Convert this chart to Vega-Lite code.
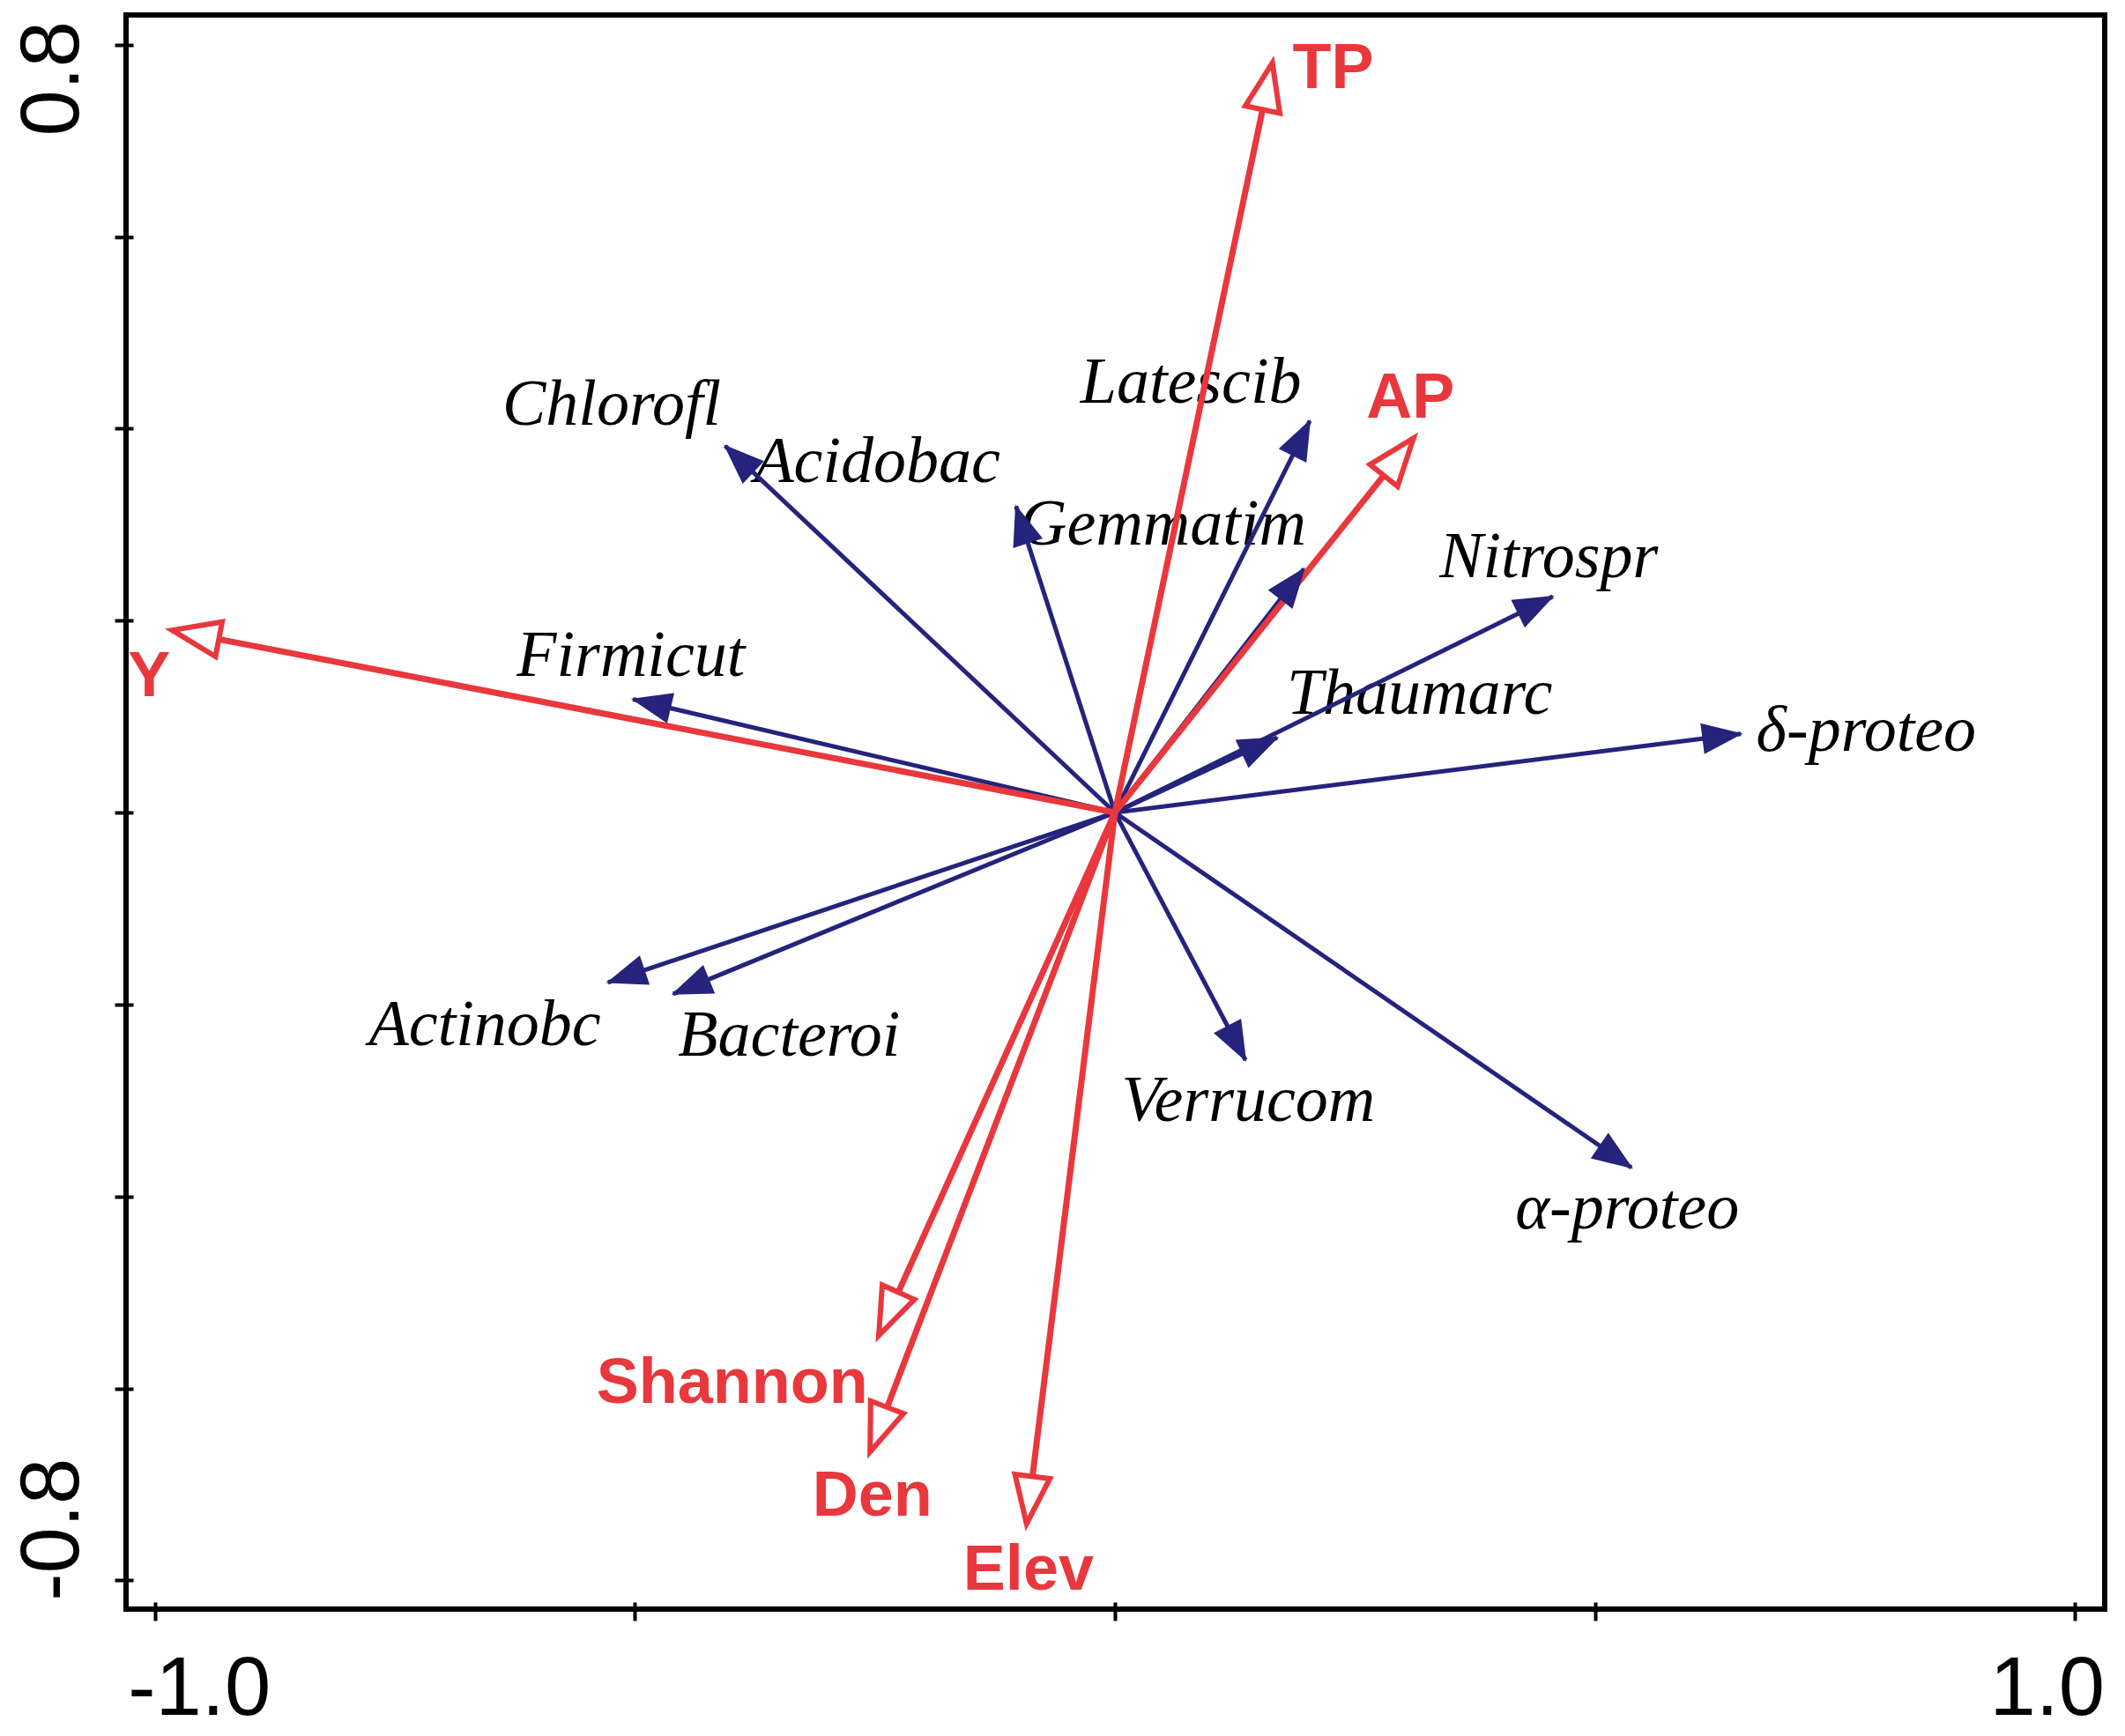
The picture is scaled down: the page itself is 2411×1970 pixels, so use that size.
{
  "$schema": "https://vega.github.io/schema/vega-lite/v6.json",
  "width": 2245,
  "height": 1809,
  "autosize": {"type": "none"},
  "padding": {"left": 143, "top": 17, "right": 23, "bottom": 144},
  "background": "white",
  "config": {"view": {"stroke": "black", "strokeWidth": 6}},
  "datasets": {
    "arrows": [
      {"name": "Chlorofl", "type": "species", "x": -0.406, "y": 0.382, "lx": -0.638, "ly": 0.404},
      {"name": "Acidobac", "type": "species", "x": -0.103, "y": 0.319, "lx": -0.376, "ly": 0.344},
      {"name": "Gemmatim", "type": "species", "x": 0.197, "y": 0.254, "lx": -0.099, "ly": 0.279},
      {"name": "Latescib", "type": "species", "x": 0.203, "y": 0.408, "lx": -0.036, "ly": 0.427},
      {"name": "Nitrospr", "type": "species", "x": 0.456, "y": 0.225, "lx": 0.338, "ly": 0.245},
      {"name": "Thaumarc", "type": "species", "x": 0.169, "y": 0.078, "lx": 0.179, "ly": 0.103},
      {"name": "δ-proteo", "type": "species", "x": 0.652, "y": 0.082, "lx": 0.668, "ly": 0.064},
      {"name": "Firmicut", "type": "species", "x": -0.502, "y": 0.118, "lx": -0.623, "ly": 0.142},
      {"name": "Actinobc", "type": "species", "x": -0.528, "y": -0.177, "lx": -0.777, "ly": -0.242},
      {"name": "Bacteroi", "type": "species", "x": -0.46, "y": -0.189, "lx": -0.455, "ly": -0.253},
      {"name": "Verrucom", "type": "species", "x": 0.136, "y": -0.258, "lx": 0.007, "ly": -0.321},
      {"name": "α-proteo", "type": "species", "x": 0.538, "y": -0.37, "lx": 0.417, "ly": -0.433},
      {"name": "TP", "type": "env", "x": 0.164, "y": 0.781, "lx": 0.185, "ly": 0.755},
      {"name": "AP", "type": "env", "x": 0.311, "y": 0.39, "lx": 0.262, "ly": 0.411},
      {"name": "Y", "type": "env", "x": -0.982, "y": 0.19, "lx": -1.028, "ly": 0.121},
      {"name": "Shannon", "type": "env", "x": -0.246, "y": -0.545, "lx": -0.54, "ly": -0.615},
      {"name": "Den", "type": "env", "x": -0.255, "y": -0.666, "lx": -0.315, "ly": -0.733},
      {"name": "Elev", "type": "env", "x": -0.092, "y": -0.741, "lx": -0.158, "ly": -0.81}
    ]
  },
  "layer": [
    {
      "mark": {"type": "rule", "color": "#8c8c8c", "strokeWidth": 2},
      "encoding": {"x": {"datum": 0, "type": "quantitative"}}
    },
    {
      "mark": {"type": "rule", "color": "#8c8c8c", "strokeWidth": 2},
      "encoding": {"y": {"datum": 0, "type": "quantitative"}}
    },
    {
      "data": {"name": "arrows"},
      "transform": [{"filter": "datum.type == 'species'"}],
      "mark": {"type": "text", "font": "Liberation Serif", "fontStyle": "italic", "fontSize": 74, "color": "black", "align": "left", "baseline": "alphabetic"},
      "encoding": {
        "x": {"field": "lx", "type": "quantitative", "title": null},
        "y": {"field": "ly", "type": "quantitative", "title": null},
        "text": {"field": "name"}
      }
    },
    {
      "data": {"name": "arrows"},
      "transform": [{"filter": "datum.type == 'env'"}],
      "mark": {"type": "text", "font": "Liberation Sans", "fontWeight": "bold", "fontSize": 72, "color": "#e8383d", "align": "left", "baseline": "alphabetic"},
      "encoding": {
        "x": {"field": "lx", "type": "quantitative", "title": null},
        "y": {"field": "ly", "type": "quantitative", "title": null},
        "text": {"field": "name"}
      }
    },
    {
      "data": {"name": "arrows"},
      "transform": [{"filter": "datum.type == 'species'"}],
      "mark": {"type": "rule", "color": "#25237c", "strokeWidth": 5},
      "encoding": {
        "x": {
          "field": "x", "type": "quantitative", "title": null,
          "scale": {"domain": [-1.03, 1.031], "nice": false, "zero": false},
          "axis": {
            "values": [-1, -0.5, 0, 0.5, 1],
            "labelExpr": "datum.value == -1 ? '-1.0' : (datum.value == 1 ? '1.0' : '')",
            "grid": false, "domain": false,
            "ticks": true, "tickSize": 21, "tickWidth": 4, "tickColor": "black",
            "offset": -8,
            "labelFont": "Liberation Sans", "labelFontSize": 94, "labelColor": "black",
            "labelPadding": 32, "labelAlign": "center", "labelBaseline": "top",
            "labelFlush": false, "labelOverlap": false,
            "labelOffset": {"condition": {"test": "datum.value < 0", "value": 50}, "value": -32},
            "title": null
          }
        },
        "y": {
          "field": "y", "type": "quantitative", "title": null,
          "scale": {"domain": [-0.83, 0.831], "nice": false, "zero": false},
          "axis": {
            "values": [-0.8, -0.6, -0.4, -0.2, 0, 0.2, 0.4, 0.6, 0.8],
            "labelExpr": "datum.value == 0.8 ? '0.8' : (datum.value == -0.8 ? '-0.8' : '')",
            "grid": false, "domain": false,
            "ticks": true, "tickSize": 21, "tickWidth": 4, "tickColor": "black",
            "offset": -8,
            "labelFont": "Liberation Sans", "labelFontSize": 94, "labelColor": "black",
            "labelAngle": -90, "labelPadding": 42, "labelAlign": "center", "labelBaseline": "alphabetic",
            "labelFlush": false, "labelOverlap": false,
            "labelOffset": {"condition": {"test": "datum.value > 0", "value": 38}, "value": -58},
            "title": null
          }
        },
        "x2": {"datum": 0},
        "y2": {"datum": 0}
      }
    },
    {
      "data": {"name": "arrows"},
      "transform": [{"filter": "datum.type == 'env'"}],
      "mark": {"type": "rule", "color": "#e8383d", "strokeWidth": 7},
      "encoding": {
        "x": {"field": "x", "type": "quantitative", "title": null},
        "y": {"field": "y", "type": "quantitative", "title": null},
        "x2": {"datum": 0},
        "y2": {"datum": 0}
      }
    },
    {
      "data": {"name": "arrows"},
      "transform": [{"filter": "datum.type == 'species'"}],
      "mark": {
        "type": "point", "shape": "M0,-0.05L0.4,1L-0.4,1Z", "size": 7744,
        "filled": true, "color": "#25237c", "strokeWidth": 0, "opacity": 1,
        "angle": {"expr": "atan2(datum.x, datum.y) * 180 / PI"}
      },
      "encoding": {
        "x": {"field": "x", "type": "quantitative", "title": null},
        "y": {"field": "y", "type": "quantitative", "title": null}
      }
    },
    {
      "data": {"name": "arrows"},
      "transform": [{"filter": "datum.type == 'env'"}],
      "mark": {
        "type": "point", "shape": "M0,0L0.37,1L-0.37,1Z", "size": 11664,
        "filled": true, "fill": "white", "stroke": "#e8383d", "strokeWidth": 6, "opacity": 1,
        "angle": {"expr": "atan2(datum.x, datum.y) * 180 / PI"}
      },
      "encoding": {
        "x": {"field": "x", "type": "quantitative", "title": null},
        "y": {"field": "y", "type": "quantitative", "title": null}
      }
    }
  ]
}
